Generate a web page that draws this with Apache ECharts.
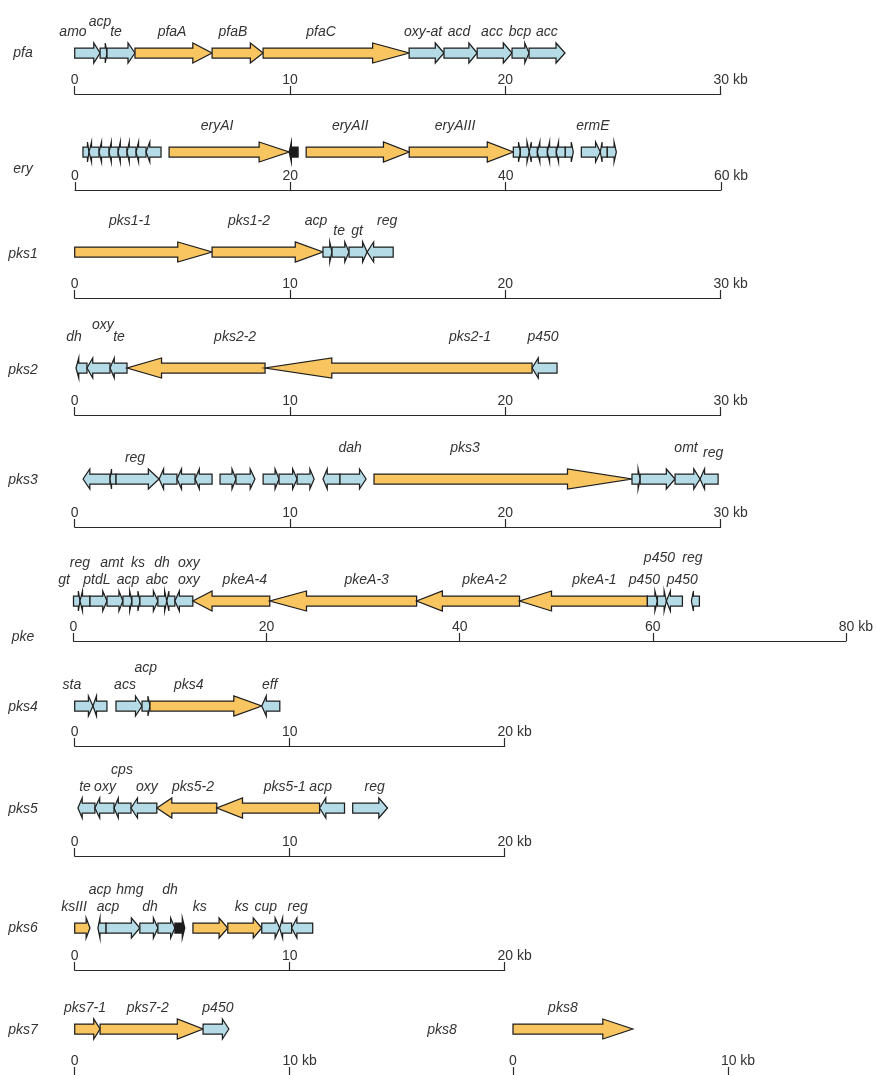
<!DOCTYPE html>
<html>
<head>
<meta charset="utf-8">
<script src="https://cdn.jsdelivr.net/npm/echarts@6/dist/echarts.min.js"></script>
<style>
  html, body { margin: 0; padding: 0; background: #fff; }
  #chart { width: 876px; height: 1075px; }
</style>
</head>
<body>
<div id="chart"></div>
<script>
// genes: [start kb, end kb, strand (1 right / -1 left), kind ('b' blue, 'o' orange, 'k' black)]
// labels: [text, kb, tier]  (tier = label row above the gene line)
const pfaGenes = [
  [0, 1.18, 1, 'b'], [1.18, 1.50, 1, 'b'], [1.50, 2.80, 1, 'b'],
  [2.80, 6.38, 1, 'o'], [6.38, 8.75, 1, 'o'], [8.75, 15.53, 1, 'o'],
  [15.53, 17.15, 1, 'b'], [17.15, 18.69, 1, 'b'], [18.69, 20.31, 1, 'b'],
  [20.31, 21.10, 1, 'b'], [21.10, 22.77, 1, 'b']
];
const pfaLabels = [
  ['amo', -0.08, 0], ['acp', 1.18, 2], ['te', 1.92, 0], ['pfaA', 4.52, 0], ['pfaB', 7.35, 0],
  ['pfaC', 11.44, 0], ['oxy-at', 16.18, 0], ['acd', 17.85, 0], ['acc', 19.38, 0],
  ['bcp', 20.68, 0], ['acc', 21.93, 0]
];

const eryGenes = [
  [0.74, 1.30, 1, 'b'], [1.30, 2.23, -1, 'b'], [2.23, 3.16, -1, 'b'], [3.16, 4.00, -1, 'b'],
  [4.00, 4.83, -1, 'b'], [4.83, 5.67, -1, 'b'], [5.67, 6.60, -1, 'b'], [6.60, 7.99, -1, 'b'],
  [8.74, 19.89, 1, 'o'], [19.89, 20.72, -1, 'k'],
  [21.47, 31.04, 1, 'o'], [31.04, 40.71, 1, 'o'],
  [40.71, 41.36, 1, 'b'], [41.36, 42.19, 1, 'b'], [42.19, 42.94, -1, 'b'], [42.94, 43.87, -1, 'b'],
  [43.87, 44.70, -1, 'b'], [44.70, 45.54, -1, 'b'], [45.54, 46.28, 1, 'b'],
  [47.03, 48.79, 1, 'b'], [48.79, 49.44, -1, 'b'], [49.44, 50.28, 1, 'b']
];
const eryLabels = [['eryAI', 13.2, 1], ['eryAII', 25.56, 1], ['eryAIII', 35.3, 1], ['ermE', 48.1, 1]];

const pks1Genes = [
  [0, 6.38, 1, 'o'], [6.38, 11.53, 1, 'o'], [11.53, 11.95, 1, 'b'],
  [11.95, 12.74, 1, 'b'], [12.74, 13.58, 1, 'b'], [13.58, 14.79, -1, 'b']
];
const pks1Labels = [
  ['pks1-1', 2.57, 2], ['pks1-2', 8.09, 2], ['acp', 11.21, 2],
  ['te', 12.28, 0], ['gt', 13.11, 0], ['reg', 14.51, 2]
];

const pks2Genes = [
  [0.06, 0.57, -1, 'b'], [0.57, 1.64, -1, 'b'], [1.64, 2.43, -1, 'b'],
  [2.43, 8.84, -1, 'o'], [8.84, 21.24, -1, 'o'], [21.24, 22.4, -1, 'b']
];
const pks2Labels = [
  ['dh', -0.03, 2], ['oxy', 1.31, 4], ['te', 2.06, 2],
  ['pks2-2', 7.45, 2], ['pks2-1', 18.36, 2], ['p450', 21.75, 2]
];

const pks3Genes = [
  [0.39, 1.64, -1, 'b'], [1.64, 1.92, -1, 'b'], [1.92, 3.92, 1, 'b'],
  [3.92, 4.75, -1, 'b'], [4.75, 5.59, -1, 'b'], [5.59, 6.38, -1, 'b'],
  [6.75, 7.49, 1, 'b'], [7.49, 8.37, 1, 'b'],
  [8.75, 9.49, 1, 'b'], [9.49, 10.33, 1, 'b'], [10.33, 11.12, 1, 'b'],
  [11.53, 12.32, -1, 'b'], [12.32, 13.53, 1, 'b'],
  [13.90, 25.88, 1, 'o'],
  [25.88, 26.26, 1, 'b'], [26.26, 27.88, 1, 'b'], [27.88, 29.04, 1, 'b'], [29.04, 29.88, -1, 'b']
];
const pks3Labels = [
  ['reg', 2.80, 0], ['dah', 12.79, 2], ['pks3', 18.13, 2], ['omt', 28.39, 2], ['reg', 29.65, 1]
];

const pkeGenes = [
  [0, 0.67, 1, 'b'], [0.67, 1.71, -1, 'b'], [1.71, 3.47, 1, 'b'], [3.47, 5.12, 1, 'b'],
  [5.12, 6.05, 1, 'b'], [6.05, 6.88, 1, 'b'], [6.88, 8.74, 1, 'b'], [8.74, 9.67, 1, 'b'],
  [9.67, 10.50, -1, 'b'], [10.50, 12.36, -1, 'b'],
  [12.36, 20.33, -1, 'o'], [20.33, 35.54, -1, 'o'], [35.54, 46.20, -1, 'o'], [46.20, 59.44, -1, 'o'],
  [59.44, 60.48, 1, 'b'], [60.48, 61.41, 1, 'b'], [61.41, 63.07, -1, 'b'], [64.0, 64.83, -1, 'b']
];
const pkeLabels = [
  ['reg', 0.67, 3], ['amt', 3.98, 3], ['ks', 6.67, 3], ['dh', 9.16, 3], ['oxy', 11.95, 3],
  ['gt', -0.98, 0], ['ptdL', 2.43, 0], ['acp', 5.64, 0], ['abc', 8.64, 0], ['oxy', 11.95, 0],
  ['pkeA-4', 17.74, 0], ['pkeA-3', 30.37, 0], ['pkeA-2', 42.57, 0], ['pkeA-1', 53.96, 0],
  ['p450', 59.13, 0], ['p450', 63.06, 0], ['p450', 60.69, 4], ['reg', 64.10, 4]
];

const pks4Genes = [
  [0, 0.85, 1, 'b'], [0.85, 1.50, -1, 'b'], [1.92, 3.13, 1, 'b'], [3.13, 3.50, 1, 'b'],
  [3.50, 8.70, 1, 'o'], [8.70, 9.54, -1, 'b']
];
const pks4Labels = [['sta', -0.13, 0], ['acs', 2.34, 0], ['acp', 3.31, 3], ['pks4', 5.31, 0], ['eff', 9.07, 0]];

const pks5Genes = [
  [0.15, 0.94, -1, 'b'], [0.94, 1.83, -1, 'b'], [1.83, 2.62, -1, 'b'], [2.62, 3.82, -1, 'b'],
  [3.82, 6.61, -1, 'o'], [6.61, 11.39, -1, 'o'], [11.39, 12.55, -1, 'b'], [12.93, 14.55, 1, 'b']
];
const pks5Labels = [
  ['te', 0.48, 0], ['oxy', 1.41, 0], ['cps', 2.20, 3], ['oxy', 3.36, 0],
  ['pks5-2', 5.50, 0], ['pks5-1', 9.77, 0], ['acp', 11.44, 0], ['reg', 13.95, 0]
];

const pks6Genes = [
  [0, 0.71, 1, 'o'], [1.08, 1.46, -1, 'b'], [1.46, 3.03, 1, 'b'], [3.03, 3.87, 1, 'b'],
  [3.87, 4.66, 1, 'b'], [4.66, 5.12, 1, 'k'], [5.50, 7.12, 1, 'o'], [7.12, 8.70, 1, 'o'],
  [8.70, 9.53, 1, 'b'], [9.53, 10.09, -1, 'b'], [10.09, 11.07, -1, 'b']
];
const pks6Labels = [
  ['ksIII', -0.03, 0], ['acp', 1.55, 0], ['acp', 1.18, 3], ['hmg', 2.57, 3], ['dh', 3.50, 0],
  ['dh', 4.43, 3], ['ks', 5.82, 0], ['ks', 7.77, 0], ['cup', 8.89, 0], ['reg', 10.37, 0]
];

const pks7Genes = [[0, 1.18, 1, 'o'], [1.18, 5.97, 1, 'o'], [5.97, 7.17, 1, 'b']];
const pks7Labels = [['pks7-1', 0.48, 0], ['pks7-2', 3.40, 0], ['p450', 6.66, 0]];

const pks8Genes = [[0, 5.57, 1, 'o']];
const pks8Labels = [['pks8', 2.32, 0]];

const FONT = '"Liberation Sans", Arial, Helvetica, sans-serif';
const COLORS = { b: '#b4dbe6', o: '#f8c561', k: '#1c1c1c' };
const TIER = [21, 26, 31, 38, 43];

const tracks = [
  { name: 'pfa',  genes: pfaGenes,  labels: pfaLabels,  max: 30, step: 10, left: 74.7, width: 646, geneY: 53,   axisY: 94,   nameX: 23,  nameY: 53 },
  { name: 'ery',  genes: eryGenes,  labels: eryLabels,  max: 60, step: 20, left: 75,   width: 646, geneY: 152,  axisY: 190,  nameX: 23,  nameY: 169 },
  { name: 'pks1', genes: pks1Genes, labels: pks1Labels, max: 30, step: 10, left: 74.7, width: 646, geneY: 252,  axisY: 298,  nameX: 23,  nameY: 254 },
  { name: 'pks2', genes: pks2Genes, labels: pks2Labels, max: 30, step: 10, left: 74.7, width: 646, geneY: 368,  axisY: 415,  nameX: 23,  nameY: 370 },
  { name: 'pks3', genes: pks3Genes, labels: pks3Labels, max: 30, step: 10, left: 74.7, width: 646, geneY: 479,  axisY: 527,  nameX: 23,  nameY: 480 },
  { name: 'pke',  genes: pkeGenes,  labels: pkeLabels,  max: 80, step: 20, left: 73.5, width: 773, geneY: 601,  axisY: 641,  nameX: 23,  nameY: 637 },
  { name: 'pks4', genes: pks4Genes, labels: pks4Labels, max: 20, step: 10, left: 74.7, width: 430, geneY: 706,  axisY: 746,  nameX: 23,  nameY: 707 },
  { name: 'pks5', genes: pks5Genes, labels: pks5Labels, max: 20, step: 10, left: 74.7, width: 430, geneY: 808,  axisY: 856,  nameX: 23,  nameY: 809 },
  { name: 'pks6', genes: pks6Genes, labels: pks6Labels, max: 20, step: 10, left: 74.7, width: 430, geneY: 928,  axisY: 970,  nameX: 23,  nameY: 928 },
  { name: 'pks7', genes: pks7Genes, labels: pks7Labels, max: 10, step: 10, left: 74.7, width: 215, geneY: 1029, axisY: 1077, nameX: 23,  nameY: 1030 },
  { name: 'pks8', genes: pks8Genes, labels: pks8Labels, max: 10, step: 10, left: 513,  width: 215, geneY: 1029, axisY: 1077, nameX: 442, nameY: 1030 }
];

const chart = echarts.init(document.getElementById('chart'), null, { renderer: 'canvas' });

const grid = [], xAxis = [], yAxis = [], series = [], graphic = [];

tracks.forEach((t, i) => {
  grid.push({ left: t.left, top: t.geneY, width: t.width, height: t.axisY - t.geneY });
  xAxis.push({
    gridIndex: i,
    type: 'value',
    min: 0,
    max: t.max,
    interval: t.step,
    axisLine: { show: true, lineStyle: { color: '#2a2a2a', width: 1.2 } },
    axisTick: { show: true, inside: true, length: 8, lineStyle: { color: '#2a2a2a', width: 1.2 } },
    axisLabel: {
      inside: true,
      margin: 7,
      fontSize: 14,
      color: '#333',
      fontFamily: FONT,
      showMinLabel: true,
      showMaxLabel: true,
      formatter: (v) => (v === t.max ? '{p| }' + v + ' kb' : String(v)),
      rich: { p: { width: 20, fontSize: 14, fontFamily: FONT } }
    },
    splitLine: { show: false }
  });
  yAxis.push({ gridIndex: i, type: 'value', min: 0, max: 1, show: false });

  // gene arrows
  series.push({
    type: 'custom',
    xAxisIndex: i,
    yAxisIndex: i,
    silent: true,
    clip: false,
    data: t.genes.map((g) => [g[0], g[1]]),
    renderItem: (params, api) => {
      const g = t.genes[params.dataIndex];
      const a = api.coord([g[0], 1]);
      const b = api.coord([g[1], 1]);
      const y = a[1];
      const x1 = a[0], x2 = b[0];
      const h = (x2 - x1) * 0.25;
      const B = 5, H = 10;
      let pts;
      if (g[2] > 0) {
        const xh = x2 - h;
        pts = [[x1, y - B], [xh, y - B], [xh, y - H], [x2, y], [xh, y + H], [xh, y + B], [x1, y + B]];
      } else {
        const xh = x1 + h;
        pts = [[x2, y - B], [xh, y - B], [xh, y - H], [x1, y], [xh, y + H], [xh, y + B], [x2, y + B]];
      }
      return {
        type: 'polygon',
        shape: { points: pts },
        style: { fill: COLORS[g[3]], stroke: '#1e1e1e', lineWidth: 1.25, lineJoin: 'miter' }
      };
    }
  });

  // gene names
  series.push({
    type: 'custom',
    xAxisIndex: i,
    yAxisIndex: i,
    silent: true,
    clip: false,
    data: t.labels.map((l) => [l[1], 1]),
    renderItem: (params, api) => {
      const l = t.labels[params.dataIndex];
      const p = api.coord([l[1], 1]);
      return {
        type: 'text',
        x: p[0],
        y: p[1] - TIER[l[2]],
        style: {
          text: l[0],
          fontSize: 14,
          fontStyle: 'italic',
          fontFamily: FONT,
          fill: '#333',
          align: 'center',
          verticalAlign: 'middle'
        }
      };
    }
  });

  graphic.push({
    type: 'text',
    x: t.nameX,
    y: t.nameY,
    style: {
      text: t.name,
      fontSize: 14,
      fontStyle: 'italic',
      fontFamily: FONT,
      fill: '#333',
      align: 'center',
      verticalAlign: 'middle'
    }
  });
});

chart.setOption({
  backgroundColor: '#fff',
  animation: false,
  grid,
  xAxis,
  yAxis,
  series,
  graphic
});
</script>
</body>
</html>
